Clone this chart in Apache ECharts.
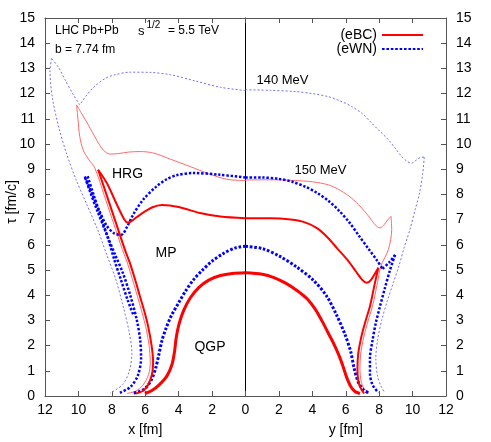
<!DOCTYPE html>
<html><head><meta charset="utf-8">
<script src="https://cdn.jsdelivr.net/npm/echarts@6/dist/echarts.min.js"></script>
<style>html,body{margin:0;padding:0;background:#fff}#c{width:491px;height:442px}</style>
</head><body><div id="c"></div>
<script>
// ---------------- data ([|x| or y in fm, tau in fm/c]) ----------------
const fmRange = [0, 12], fmStep = 2;
const tauRange = [0, 15], tauStep = 1;

// QGP boundary, eBC (thick red)
const qgpEbcLeft  = [[0,4.89],[0.8,4.86],[1.5,4.78],[2.2,4.6],[2.8,4.3],[3.3,3.9],[3.7,3.4],[3.98,2.85],[4.15,2.3],[4.25,1.75],[4.4,1.25],[4.7,0.8],[5.2,0.42],[5.6,0.22],[6.02,0.1]];
const qgpEbcRight = [[0,4.89],[1.0,4.83],[1.7,4.7],[2.4,4.48],[3.1,4.18],[3.7,3.85],[4.2,3.42],[4.6,2.95],[4.95,2.5],[5.3,2.05],[5.6,1.6],[5.85,1.15],[6.05,0.75],[6.3,0.38],[6.55,0.18],[6.85,0.1]];
// QGP boundary, eWN (thick blue dots)
const qgpEwnLeft  = [[0,5.94],[0.6,5.88],[1.34,5.65],[2.0,5.35],[2.6,4.98],[3.13,4.6],[3.6,4.15],[4.0,3.7],[4.43,3.2],[4.75,2.7],[5.0,2.2],[5.2,1.6],[5.38,1.1],[5.62,0.66],[6.0,0.3],[6.4,0.16],[6.72,0.12]];
const qgpEwnRight = [[0,5.94],[1.0,5.85],[2.06,5.54],[3.06,5.12],[4.05,4.6],[4.86,3.96],[5.46,3.2],[5.95,2.45],[6.3,1.75],[6.5,1.1],[6.75,0.55],[7.05,0.25],[7.4,0.12]];
// MP / HRG boundary, eBC (medium red)
const mpEbcLeftTop  = [[0,7.05],[1.5,7.12],[2.73,7.26],[4.0,7.5],[5.0,7.58],[5.6,7.48],[6.3,7.2],[6.8,6.95],[7.05,6.88],[7.25,7.0],[7.7,7.6],[8.3,8.45],[8.82,8.98]];
const mpEbcLeftLow  = [[8.82,8.98],[8.3,7.95],[7.62,6.6],[7.22,5.81],[6.92,5.28],[6.6,4.6],[6.32,3.96],[6.05,3.35],[5.83,2.77],[5.62,2.0],[5.53,1.35],[5.6,0.85],[5.85,0.42],[6.15,0.2],[6.55,0.1]];
const mpEbcRightTop = [[0,7.05],[1.5,7.05],[2.7,7.0],[3.6,6.88],[4.3,6.65],[4.9,6.3],[5.5,5.85],[6.1,5.4],[6.6,4.95],[7.0,4.6],[7.25,4.49],[7.5,4.6],[7.95,5.09]];
const mpEbcRightLow = [[7.95,5.09],[7.75,4.5],[7.45,3.56],[7.15,2.9],[6.95,2.4],[6.75,1.7],[6.7,1.06],[6.75,0.6],[6.9,0.3],[7.1,0.1]];
// 150 MeV, eBC (thin red)
const fo150LeftTop  = [[0,8.55],[1.13,8.6],[2.2,8.82],[3.3,9.1],[4.5,9.4],[5.5,9.64],[6.3,9.7],[7.0,9.68],[7.6,9.62],[8.12,9.6],[8.5,9.75],[8.9,10.15],[9.4,10.75],[9.8,11.2],[10.11,11.55]];
const fo150LeftLow  = [[10.11,11.55],[10.03,11.0],[9.92,10.3],[9.72,9.77],[9.4,9.4],[9.02,9.05],[8.45,7.95],[7.77,6.6],[7.37,5.81],[7.07,5.28],[6.47,3.96],[5.98,2.77],[5.77,2.0],[5.7,1.35],[5.8,0.85],[6.15,0.42],[6.55,0.2],[7.1,0.1]];
const fo150RightTop = [[0,8.57],[1.5,8.58],[3.0,8.55],[4.0,8.5],[4.95,8.38],[5.7,8.15],[6.35,7.85],[6.9,7.5],[7.35,7.15],[7.75,6.8],[8.05,6.67],[8.3,6.8],[8.5,6.98],[8.71,7.13]];
const fo150RightLow = [[8.71,7.13],[8.75,6.6],[8.55,5.81],[8.1,5.15],[7.9,4.5],[7.6,3.56],[7.3,2.9],[7.1,2.4],[6.9,1.7],[6.85,1.06],[6.92,0.6],[7.1,0.3],[7.4,0.1]];
// MP / HRG boundary, eWN (medium blue dots)
const mpEwnLeftLow  = [[7.52,0.13],[6.9,0.35],[6.45,0.8],[6.25,1.5],[6.3,2.2],[6.5,3.0],[6.9,4.0],[7.35,4.9],[7.8,5.6],[8.3,6.4],[8.9,7.4],[9.3,8.1],[9.62,8.71]];
const mpEwnLeftTop  = [[9.62,8.71],[9.2,8.05],[8.75,7.35],[8.3,6.75],[7.85,6.45],[7.42,6.4],[7.1,6.7],[6.72,7.2],[6.12,7.8],[5.32,8.32],[4.72,8.6],[4.13,8.76],[3.13,8.85],[1.53,8.78],[0,8.67]];
const mpEwnLeftOuter = [[9.45,8.72],[9.1,8.0],[8.65,7.1],[8.2,6.2],[7.85,5.4],[7.45,4.6],[7.05,3.8],[6.7,3.2]];
const mpEwnRightTop = [[0,8.67],[1.0,8.67],[1.96,8.62],[2.8,8.5],[3.6,8.3],[4.3,8.05],[4.95,7.75],[5.6,7.35],[6.2,6.9],[6.8,6.35],[7.35,5.85],[7.85,5.4],[8.2,5.05]];
const mpEwnRightMid = [[8.2,5.05],[8.6,5.3],[8.95,5.6]];
const mpEwnRightLow = [[8.95,5.6],[8.65,5.0],[8.35,4.3],[8.05,3.56],[7.8,2.9],[7.6,2.2],[7.45,1.5],[7.45,0.9],[7.6,0.45],[7.95,0.13]];
// 140 MeV (thin blue dashes)
const fo140LeftTop  = [[0,12.12],[1.5,12.25],[3.0,12.5],[4.5,12.75],[5.7,12.84],[6.9,12.85],[7.8,12.75],[8.4,12.6],[9.1,12.25],[9.55,11.9],[9.92,11.55]];
const fo140LeftKink = [[9.92,11.55],[10.3,11.95],[10.8,12.55],[11.2,13.05],[11.61,13.4]];
const fo140LeftLow  = [[11.61,13.4],[11.7,12.9],[11.55,11.8],[11.15,10.6],[10.7,9.6],[10.15,8.6],[9.5,7.6],[8.85,6.6],[8.3,5.6],[7.75,4.6],[7.3,3.5],[6.95,2.5],[6.8,1.7],[6.95,1.0],[7.35,0.45],[8.1,0.12]];
const fo140RightTop = [[0,12.15],[1.5,12.13],[3.0,12.08],[4.0,12.0],[4.95,11.88],[5.7,11.7],[6.35,11.49],[7.0,11.2],[7.55,10.83],[8.05,10.5],[8.55,10.17],[9.0,9.8],[9.35,9.5],[9.7,9.3],[9.95,9.24],[10.2,9.35],[10.45,9.46],[10.7,9.48]];
const fo140RightLow = [[10.7,9.48],[10.6,8.8],[10.4,8.0],[10.15,7.39],[9.84,6.6],[9.5,5.9],[9.2,5.2],[8.85,4.5],[8.5,3.8],[8.15,3.0],[7.9,2.2],[7.8,1.5],[7.9,0.8],[8.1,0.4],[8.35,0.12]];

// ---------------- styles ----------------
const FONT = '"Liberation Sans", Arial, Helvetica, sans-serif';
const S = {
  red3:  {color:'#ff0000', width:3},
  red2:  {color:'#ff0000', width:2},
  red1:  {color:'#ff6a6a', width:1},
  blue3: {color:'#0000ff', width:3, type:[2.6,1.8]},
  blue2: {color:'#0000ff', width:2.5, type:[2.4,1.8]},
  blue1: {color:'#6f6fff', width:1, type:[2,2]}
};
function seg(name, data, side, style, z) {
  return {type:'line', name:name, data:data, xAxisIndex: side==='L'?0:1, yAxisIndex: side==='L'?0:1,
    symbol:'none', showSymbol:false, smooth:0.3, lineStyle:style, itemStyle:{color:style.color},
    z:z||2, silent:true, animation:false, clip:false};
}
const series = [
  seg('(eBC)', qgpEbcLeft, 'L', S.red3, 5), seg('qgpEbcR', qgpEbcRight, 'R', S.red3, 5),
  seg('(eWN)', qgpEwnLeft, 'L', S.blue3, 4), seg('qgpEwnR', qgpEwnRight, 'R', S.blue3, 4),
  seg('mpEbcLT', mpEbcLeftTop, 'L', S.red2, 5), seg('mpEbcLL', mpEbcLeftLow, 'L', S.red2, 5),
  seg('mpEbcRT', mpEbcRightTop, 'R', S.red2, 5), seg('mpEbcRL', mpEbcRightLow, 'R', S.red2, 5),
  seg('fo150LT', fo150LeftTop, 'L', S.red1, 3), seg('fo150LL', fo150LeftLow, 'L', S.red1, 3),
  seg('fo150RT', fo150RightTop, 'R', S.red1, 3), seg('fo150RL', fo150RightLow, 'R', S.red1, 3),
  seg('mpEwnLL', mpEwnLeftLow, 'L', S.blue2, 4), seg('mpEwnLT', mpEwnLeftTop, 'L', S.blue2, 4), seg('mpEwnLO', mpEwnLeftOuter, 'L', S.blue2, 4),
  seg('mpEwnRT', mpEwnRightTop, 'R', S.blue2, 4), seg('mpEwnRM', mpEwnRightMid, 'R', S.blue2, 4), seg('mpEwnRL', mpEwnRightLow, 'R', S.blue2, 4),
  seg('fo140LT', fo140LeftTop, 'L', S.blue1, 2), seg('fo140LK', fo140LeftKink, 'L', S.blue1, 2), seg('fo140LL', fo140LeftLow, 'L', S.blue1, 2),
  seg('fo140RT', fo140RightTop, 'R', S.blue1, 2), seg('fo140RL', fo140RightLow, 'R', S.blue1, 2)
];

const frame = '#555';
function xAx(grid, pos, inverse, name, labels) {
  return {type:'value', gridIndex:grid, position:pos, min:fmRange[0], max:fmRange[1], interval:fmStep, inverse:inverse,
    axisLine:{show:true, onZero:false, lineStyle:{color:frame, width:1}},
    axisTick:{show:true, inside:true, length:5, lineStyle:{color:frame}},
    axisLabel:{show:labels, fontSize:14, fontFamily:FONT, color:'#000', margin:7, showMinLabel: !inverse},
    splitLine:{show:false}, name:name, nameLocation:'middle', nameGap:27,
    nameTextStyle:{fontSize:14, fontFamily:FONT, color:'#000'}};
}
function yAx(grid, pos, labels, ticks, color) {
  return {type:'value', gridIndex:grid, position:pos, min:tauRange[0], max:tauRange[1], interval:tauStep,
    axisLine:{show:true, onZero:false, lineStyle:{color:color||frame, width:1}},
    axisTick:{show:ticks, inside:true, length:5, lineStyle:{color:frame}},
    axisLabel:{show:labels, fontSize:14, fontFamily:FONT, color:'#000', margin:10},
    splitLine:{show:false}};
}
function txt(x, y, t, size, align) {
  return {type:'text', x:x, y:y, silent:true, z:10,
    style:{text:t, font: size+'px '+FONT, fill:'#000', textAlign:align||'center', textVerticalAlign:'middle', align:align||'center', verticalAlign:'middle'}};
}

const chart = echarts.init(document.getElementById('c'), null, {renderer:'canvas'});
chart.setOption({
  animation:false,
  backgroundColor:'#fff',
  grid:[{left:45, top:18, width:200.5, height:379}, {left:245.5, top:18, width:200.5, height:379}],
  xAxis:[xAx(0,'bottom',true,'x [fm]',true), xAx(1,'bottom',false,'y [fm]',true),
         xAx(0,'top',true,'',false), xAx(1,'top',false,'',false)],
  yAxis:[yAx(0,'left',true,true), yAx(1,'right',true,true), yAx(0,'right',false,false,'#000')],
  legend:{data:['(eBC)','(eWN)'], orient:'vertical', right:62, top:23, align:'right', itemWidth:41, itemHeight:14, itemGap:0,
    itemStyle:{opacity:0}, textStyle:{fontSize:14, fontFamily:FONT, color:'#000'}, selectedMode:false},
  series:series,
  graphic:[
    txt(55, 31, 'LHC Pb+Pb', 12, 'left'),
    txt(55, 50, 'b = 7.74 fm', 12, 'left'),
    txt(138, 31, 's', 13, 'left'),
    txt(146.5, 25.5, '1/2', 10, 'left'),
    txt(168, 31, '= 5.5 TeV', 12, 'left'),
    txt(282.5, 80, '140 MeV', 13),
    txt(320.5, 170, '150 MeV', 13),
    txt(127.5, 174, 'HRG', 14),
    txt(166, 253, 'MP', 14),
    txt(210, 347, 'QGP', 14),
    Object.assign(txt(12, 202, 'τ [fm/c]', 14), {rotation: Math.PI/2})
  ]
});
</script></body></html>
